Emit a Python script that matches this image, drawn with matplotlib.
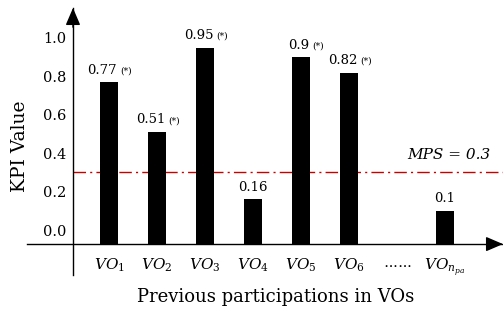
import matplotlib.pyplot as plt
import numpy as np

plt.rcParams['font.family'] = 'DejaVu Serif'
plt.rcParams['mathtext.fontset'] = 'dejavuserif'

# data
labels = [r'$VO_1$', r'$VO_2$', r'$VO_3$', r'$VO_4$', r'$VO_5$', r'$VO_6$',
          '$\\cdots\\cdots$', r'$VO_{n_{pa}}$']
positions = [1, 2, 3, 4, 5, 6, 8]
values = [0.77, 0.51, 0.95, 0.16, 0.9, 0.82, 0.1]
starred = [True, True, True, False, True, True, False]
mps = 0.3
yticks = [0.0, 0.2, 0.4, 0.6, 0.8, 1.0]

# layout (pixels of a 503x311 figure)
W, H = 503, 311
fig = plt.figure(figsize=(W / 100, H / 100), dpi=100)
ax = fig.add_axes([27 / W, (H - 275) / H, 476 / W, 267 / H])

xlo, xhi = -0.708, 9.208
ylo, yhi = -0.234, 1.156
base = -0.073      # where the horizontal axis sits
yaxis_x = 0.25     # where the vertical axis sits
ax.set_xlim(xlo, xhi)
ax.set_ylim(ylo, yhi)

for s in ['top', 'right']:
    ax.spines[s].set_visible(False)
ax.spines['left'].set_position(('data', yaxis_x))
ax.spines['bottom'].set_position(('data', base))
ax.spines['left'].set_linewidth(1.0)
ax.spines['bottom'].set_linewidth(1.0)

# arrow heads
ax.annotate('', xy=(xhi, base), xytext=(xhi - 0.3, base),
            arrowprops=dict(arrowstyle='-|>,head_length=1.05,head_width=0.45',
                            color='k', lw=1.0, shrinkA=0, shrinkB=0),
            annotation_clip=False)
ax.annotate('', xy=(yaxis_x, yhi), xytext=(yaxis_x, yhi - 0.1),
            arrowprops=dict(arrowstyle='-|>,head_length=1.05,head_width=0.45',
                            color='k', lw=1.0, shrinkA=0, shrinkB=0),
            annotation_clip=False)

vals = np.array(values)
ax.bar(positions, vals - base, bottom=base, width=0.375, color='black', zorder=3)

ax.hlines(mps, yaxis_x, xhi, colors='#c80000', lw=1.0,
          linestyles=(0, (9, 3, 1.5, 3)), zorder=2)
ax.text(8.94, 0.39, 'MPS = 0.3', style='italic', fontsize=11,
        ha='right', va='center')

for x, v, st in zip(positions, values, starred):
    txt = f'{v:g}'
    if st:
        ax.text(x + 0.17, v + 0.045, txt, ha='right', va='baseline', fontsize=9.5)
        ax.text(x + 0.24, v + 0.045, '(*)', ha='left', va='baseline', fontsize=6.5)
    else:
        ax.text(x, v + 0.045, txt, ha='center', va='baseline', fontsize=9.5)

ax.set_yticks(yticks)
ax.set_yticklabels([f'{t:.1f}' for t in yticks], fontsize=10.5)
ax.set_xticks(positions[:6] + [7, 8])
ax.set_xticklabels(labels, fontsize=11)
ax.tick_params(axis='y', length=0, pad=5)
ax.tick_params(axis='x', length=0, pad=9)

fig.text(20 / W, 1 - 146 / H, 'KPI Value', rotation=90, ha='center',
         va='center', fontsize=13.5)
fig.text(276 / W, 1 - 297 / H, 'Previous participations in VOs',
         ha='center', va='center', fontsize=13)

fig.savefig('out.png', dpi=100)
